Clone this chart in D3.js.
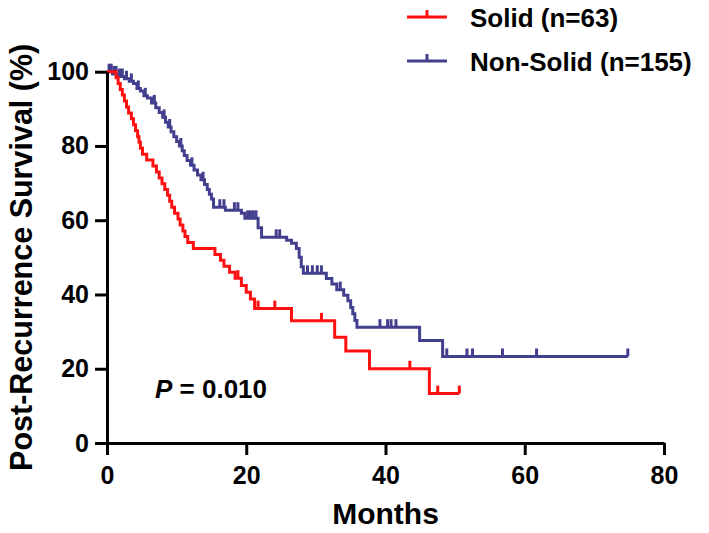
<!DOCTYPE html>
<html><head><meta charset="utf-8">
<script src="https://cdn.jsdelivr.net/npm/d3@7"></script>
<style>
body{margin:0;background:#fff}
svg{display:block}
text{font-family:"Liberation Sans",Arial,Helvetica,sans-serif;font-weight:bold;fill:#000}
</style>
</head><body>
<svg id="chart" width="709" height="533"></svg>
<script>
// ---- data ----
const xTicks = [0, 20, 40, 60, 80];
const yTicks = [0, 20, 40, 60, 80, 100];
const seriesNames = ["Solid (n=63)", "Non-Solid (n=155)"];
const seriesColors = ["#ff1010", "#433f8f"];

// Solid: event times (months) and survival (%) after each step
const solidTimes = [0, 1.3, 1.6, 1.9, 2.2, 2.5, 2.8, 3.1, 3.5, 3.8, 4.1, 4.4, 4.6, 4.8, 5.1, 5.7, 6.6, 7.1, 7.5, 7.9, 8.3, 8.7, 9.0, 9.3, 9.7, 10.2, 10.5, 10.9, 11.2, 11.6, 12.4,
  15.5, 16.3, 16.8, 17.6, 18.4, 19.3, 20.0, 20.6, 21.2, 26.5, 32.7, 34.3, 37.7, 46.3, 50.6];
const solidSurv = [100, 98.4, 96.8, 95.2, 93.7, 92.1, 90.5, 88.9, 87.3, 85.7, 84.1, 82.5, 81.0, 79.4, 77.8, 76.2, 74.6, 73.0, 71.4, 69.8, 68.3, 66.7, 65.1, 63.5, 61.9, 60.3, 58.7, 57.1, 55.6, 54.0, 52.4,
  50.8, 49.2, 47.6, 46.0, 44.4, 42.4, 40.6, 38.8, 36.2, 32.9, 28.5, 24.8, 20.0, 13.3, 13.3];
const solidCensor = [18.8, 21.7, 24.1, 26.5, 30.8, 43.5, 47.5, 50.6];

// Non-Solid
const nonSolidTimes = [0, 0.8, 1.5, 2.5, 3.2, 3.8, 4.3, 4.8, 5.3, 5.8, 6.4, 7.0, 7.5, 8.0, 8.4, 8.8, 9.2, 9.6, 10.0, 10.4, 10.8, 11.1, 11.5, 12.0, 12.5, 13.0, 13.5, 14.0, 14.4, 14.7, 15.0, 15.3,
  17.0, 19.3, 19.8, 21.7, 22.2, 25.8, 26.5, 27.2, 27.6, 27.9, 28.2, 31.5, 32.3, 33.0, 34.0, 34.6, 35.0, 35.3, 35.6, 35.9, 44.9, 48.2, 74.8];
const nonSolidSurv = [100, 99.4, 98.7, 98.1, 97.4, 96.8, 95.5, 94.8, 93.5, 92.9, 91.6, 90.3, 89.0, 87.7, 86.4, 85.1, 83.8, 82.5, 81.2, 80.0, 78.7, 77.4, 76.1, 74.8, 73.5, 72.2, 70.9, 69.6, 68.3, 67.0, 65.7, 63.5,
  62.7, 61.9, 60.5, 58.0, 55.4, 54.6, 53.8, 52.4, 50.0, 47.5, 45.7, 44.3, 42.8, 41.3, 39.8, 38.3, 36.5, 34.8, 33.0, 31.2, 27.6, 23.3, 23.3];
const nonSolidCensor = [0.3, 0.6, 1.0, 1.3, 1.8, 2.2, 2.8, 3.5, 4.5, 5.5, 6.8, 8.2, 9.0, 10.6, 12.2, 13.8, 16.2, 16.8, 18.3, 18.8, 20.2, 20.6, 21.0, 21.4, 24.3, 24.8,
  28.8, 29.5, 30.2, 30.8, 33.5, 39.2, 40.3, 40.8, 41.5, 48.8, 51.7, 52.5, 56.8, 61.7, 74.8];

const pLabelItalic = "P";
const pLabelRest = " = 0.010";
const xTitle = "Months";
const yTitle = "Post-Recurrence Survival (%)";

// ---- drawing ----
const svg = d3.select("#chart");
const x = d3.scaleLinear().domain([0, 80]).range([107, 664]);
const y = d3.scaleLinear().domain([0, 100]).range([443, 71.7]);

const series = [
  {times: solidTimes, surv: solidSurv, censor: solidCensor, color: seriesColors[0]},
  {times: nonSolidTimes, surv: nonSolidSurv, censor: nonSolidCensor, color: seriesColors[1]}
];

const line = d3.line().x(d => x(d[0])).y(d => y(d[1])).curve(d3.curveStepAfter);

[series[1], series[0]].forEach(s => {
  const pts = s.times.map((t, i) => [t, s.surv[i]]);
  svg.append("path").attr("d", line(pts)).attr("fill", "none")
    .attr("stroke", s.color).attr("stroke-width", 3).attr("stroke-linejoin", "miter");
  const survAt = t => s.surv[Math.max(0, d3.bisectRight(s.times, t) - 1)];
  svg.append("g").selectAll("line").data(s.censor).join("line")
    .attr("x1", d => x(d)).attr("x2", d => x(d))
    .attr("y1", d => y(survAt(d))).attr("y2", d => y(survAt(d)) - 8)
    .attr("stroke", s.color).attr("stroke-width", 3);
});

// axes
const xAxis = svg.append("g").attr("transform", `translate(0,${y(0)})`)
  .call(d3.axisBottom(x).tickValues(xTicks).tickSize(12).tickSizeOuter(0).tickPadding(11));
const yAxis = svg.append("g").attr("transform", `translate(${x(0)},0)`)
  .call(d3.axisLeft(y).tickValues(yTicks).tickSize(12).tickSizeOuter(0).tickPadding(6));
[xAxis, yAxis].forEach(g => {
  g.select(".domain").attr("stroke", "#000").attr("stroke-width", 3);
  g.selectAll(".tick line").attr("stroke", "#000").attr("stroke-width", 3);
  g.selectAll(".tick text").style("font-size", "25px").style("font-family", '"Liberation Sans",Arial,sans-serif').style("font-weight", "bold").attr("fill", "#000");
});

// axis titles
svg.append("text").attr("x", x(40)).attr("y", 524).attr("text-anchor", "middle")
  .style("font-size", "30px").text(xTitle);
svg.append("text").attr("transform", `translate(32,${(y(0) + y(100)) / 2}) rotate(-90)`)
  .attr("text-anchor", "middle").style("font-size", "30.5px").text(yTitle);

// p-value
const pt = svg.append("text").attr("x", 155).attr("y", 398).style("font-size", "26px");
pt.append("tspan").style("font-style", "italic").text(pLabelItalic);
pt.append("tspan").text(pLabelRest);

// legend
const legY = [17, 61];
series.forEach((s, i) => {
  svg.append("line").attr("x1", 407).attr("x2", 447).attr("y1", legY[i]).attr("y2", legY[i])
    .attr("stroke", s.color).attr("stroke-width", 3);
  svg.append("line").attr("x1", 427).attr("x2", 427).attr("y1", legY[i]).attr("y2", legY[i] - 7)
    .attr("stroke", s.color).attr("stroke-width", 3);
  svg.append("text").attr("x", 470).attr("y", legY[i] + 10).style("font-size", "26px").text(seriesNames[i]);
});
</script>
</body></html>
